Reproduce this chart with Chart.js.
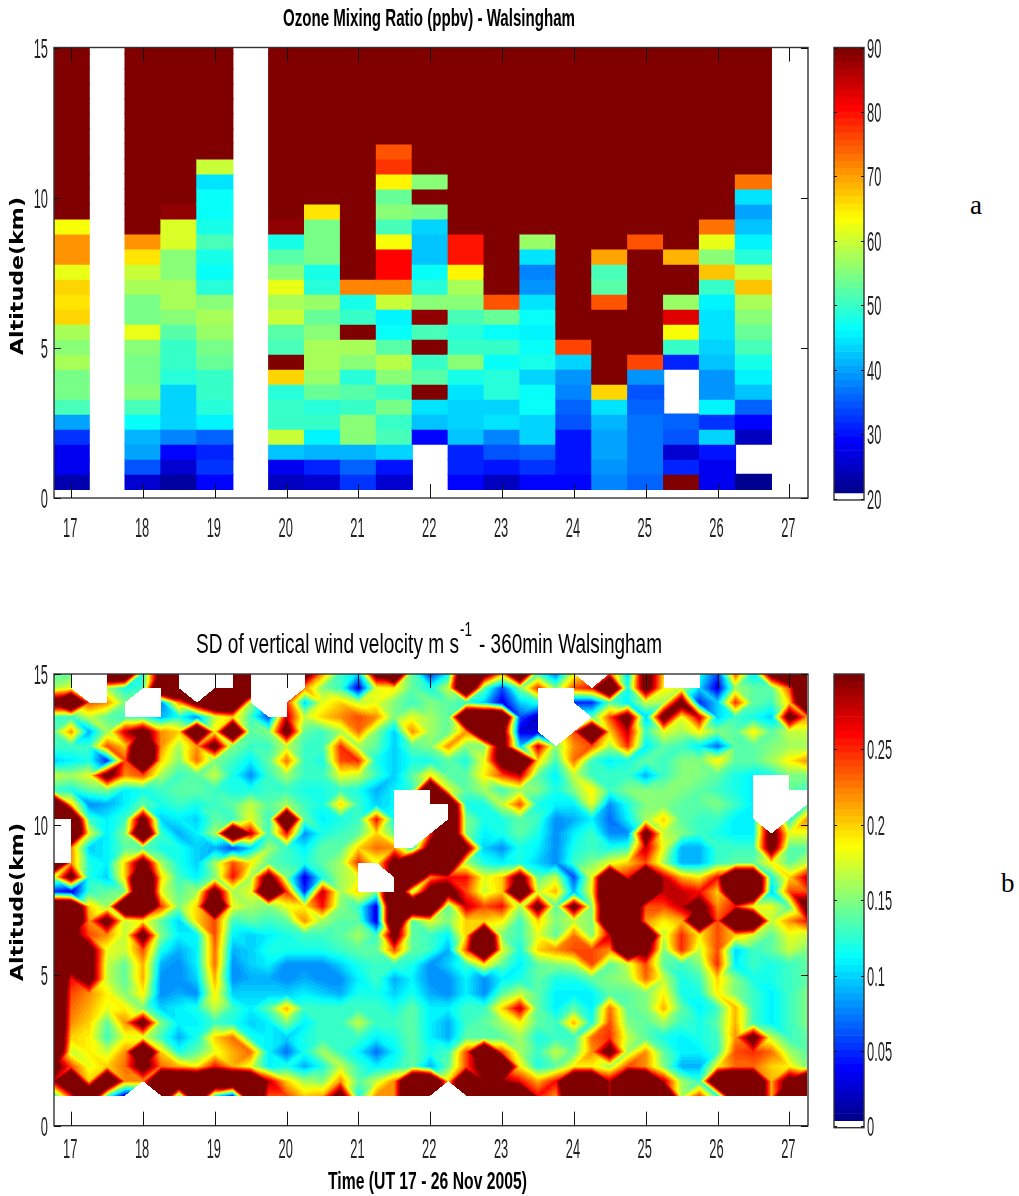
<!DOCTYPE html>
<html>
<head>
<meta charset="utf-8">
<title>Walsingham ozone and vertical wind</title>
<script src="https://cdn.jsdelivr.net/npm/chart.js@4"></script>
<style>
  html, body { margin: 0; padding: 0; background: #fff; }
  body { position: relative; width: 1019px; height: 1196px; overflow: hidden; }
  canvas { position: absolute; }
  .tag { position: absolute; font: 27px "Liberation Serif", serif; color: #000; }
</style>
</head>
<body>
<canvas id="ozoneChart" style="left:0;top:0"></canvas>
<canvas id="ozoneBar" style="left:820px;top:0"></canvas>
<canvas id="sdChart" style="left:0;top:600px"></canvas>
<canvas id="sdBar" style="left:820px;top:600px"></canvas>
<div class="tag" style="left:970px;top:190px">a</div>
<div class="tag" style="left:1001px;top:868px">b</div>
<script>
const N = null;

// Panel a: ozone (ppbv), one list per half day, bottom row first
const ozoneDays = [17, 17.5, 18, 18.5, 19, 19.5, 20, 20.5, 21, 21.5, 22, 22.5, 23, 23.5, 24, 24.5, 25, 25.5, 26, 26.5];
const ozoneEdges = [0.29, 0.79, 1.29, 1.79, 2.29, 2.79, 3.29, 3.79, 4.29, 4.79, 5.29, 5.79, 6.29, 6.79, 7.29, 7.79, 8.29, 8.79, 9.29, 9.79, 10.29, 10.79, 11.29, 11.79, 12.29, 12.79, 13.29, 13.79, 14.29, 14.79, 15.29, 15.79];
const ozoneValues = [
  [24,28,28,33,40,51,54,54,58,55,58,67,65,67,62,71,71,63,90,90,90,90,90,90,90,90,90,90,90,90,90],
  [],
  [26,35,40,41,47,51,55,54,54,55,62,54,54,58,60,65,71,90,90,90,90,90,90,90,90,90,90,90,90,90,90],
  [23,26,29,38,43,44,43,49,50,50,52,55,58,58,55,56,61,61,88,90,90,90,90,90,90,90,90,90,90,90,90],
  [29,33,31,36,46,49,50,50,53,54,57,58,55,49,47,48,51,48,47,47,45,60,90,90,90,90,90,90,90,90,90],
  [],
  [25,28,42,60,50,50,49,67,90,51,52,60,58,62,55,52,48,88,90,90,90,90,90,90,90,90,90,90,90,90,90],
  [26,31,41,46,50,49,53,57,58,58,55,53,57,49,48,54,54,54,65,90,90,90,90,90,90,90,90,90,90,90,90],
  [33,36,41,55,55,50,52,49,55,58,90,50,48,72,90,90,90,90,90,90,90,90,90,90,90,90,90,90,90,90,90],
  [26,30,44,51,50,54,50,56,59,52,47,46,60,72,81,81,63,51,55,53,64,77,75,90,90,90,90,90,90,90,90],
  [N,N,N,29,42,45,90,52,50,90,51,88,56,49,47,42,42,44,54,90,56,90,90,90,90,90,90,90,90,90,90],
  [29,32,32,42,44,43,45,48,55,50,49,51,55,58,64,80,80,90,90,90,90,90,90,90,90,90,90,90,90,90,90],
  [25,30,35,38,45,43,49,49,47,50,47,53,75,90,90,90,90,90,90,90,90,90,90,90,90,90,90,90,90,90,90],
  [29,33,36,43,43,47,47,44,48,47,46,47,45,39,38,45,57,90,90,90,90,90,90,90,90,90,90,90,90,90,90],
  [29,30,30,30,35,36,38,39,44,76,90,90,90,90,90,90,90,90,90,90,90,90,90,90,90,90,90,90,90,90,90],
  [38,39,40,40,41,45,67,90,90,90,90,90,75,52,51,70,90,90,90,90,90,90,90,90,90,90,90,90,90,90,90],
  [36,37,37,37,37,36,35,39,76,90,90,90,90,90,90,90,75,90,90,90,90,90,90,90,90,90,90,90,90,90,90],
  [90,32,26,35,36,N,N,N,31,50,63,83,57,90,90,69,90,89,90,90,90,90,90,90,90,90,90,90,90,90,90],
  [28,28,30,44,33,46,39,39,42,44,45,45,46,50,68,56,62,73,90,90,90,90,90,90,90,90,90,90,90,90,90],
  [22,N,N,25,29,36,42,46,48,51,53,55,58,68,60,49,46,42,40,45,73,90,90,90,90,90,90,90,90,90,90]
];

// Panel b: SD of vertical wind (hundredths of m/s), one list per altitude, top row first.
// Values above 30 are off the colour scale and show as the darkest red.
const sdDays = [16.75,17,17.25,17.5,17.75,18,18.25,18.5,18.75,19,19.25,19.5,19.75,20,20.25,20.5,20.75,21,21.25,21.5,21.75,22,22.25,22.5,22.75,23,23.25,23.5,23.75,24,24.25,24.5,24.75,25,25.25,25.5,25.75,26,26.25,26.5,26.75,27,27.25];
const sdAltitudes = [15.02,14.53,14.05,13.57,13.08,12.6,12.12,11.63,11.15,10.67,10.18,9.7,9.22,8.73,8.25,7.77,7.28,6.8,6.32,5.83,5.35,4.87,4.38,3.9,3.42,2.93,2.45,1.97,1.48,1.0];
const sdValues = [
  [14,14,20,45,45,12,34,45,22,22,45,45,20,20,34,22,13,10,34,45,14, 5,11,45,34,22,45,13,7,18,N,24,10,34,20,20,12,6,24,11,34,45,45],
  [16,18,N,16,12,13,45,45,N,45,45,45,20,N,22,15,13,3,18,19,14, 12,17,45,14,6,15,25,15,24,26,45,12,34,19,17,10,3,16,14,14,24,45],
  [34,45,24,22,15,N,8,22,34,45,45,16,N,25,10,18,20,17,18,15,13, 15,14,13,10,3,10,12,15,5,5,14,11,17,16,34,5,10,25,14,13,20,45],
  [13,13,17,14,13,13,9,12,8,17,20,13,6,28,17,20,22,24,22,15,18, 16,14,45,45,45,6,2,15,N,14,24,34,10,34,18,28,10,13,12,10,34,22],
  [14,22,9,16,28,34,22,20,45,19,45,14,15,34,14,13,16,23,15,10,22, 16,14,22,45,34,3,3,N,24,45,20,28,13,18,16,19,15,14,19,14,17,17],
  [13,13,13,24,20,45,22,16,22,34,15,13,13,17,13,13,25,16,14,10,14, 15,22,15,15,34,10,28,15,22,24,16,25,11,14,13,11,7,14,14,15,16,16],
  [10,11,12,5,24,45,20,15,23,15,13,11,14,23,13,12,24,25,12,10,12, 12,14,12,18,34,45,20,13,23,13,11,12,14,13,15,15,19,14,14,16,19,22],
  [17,16,18,34,22,24,16,13,14,17,12,8,13,16,13,13,18,17,13,10,14, 19,14,14,19,24,28,14,11,17,13,13,13,9,13,15,15,14,12,11,12,15,15],
  [13,12,14,15,11,12,13,14,14,13,12,12,13,13,12,12,13,12,9,11,13, 45,18,14,16,13,16,15,12,15,19,13,15,15,15,15,14,13,12,11,12,14,13],
  [45,20,8,9,11,14,12,13,12,13,14,17,14,16,13,12,20,13,10,11,13, 45,45,12,12,17,24,12,11,11,18,8,12,15,15,14,14,15,13,11,12,N,13],
  [45,45,13,11,13,34,10,11,10,14,13,18,13,45,14,11,12,13,26,12,13, N,45,15,12,12,14,13,8,9,11,7,11,16,20,14,13,13,11,11,N,12,22],
  [20,45,18,11,15,45,13,9,11,16,45,28,13,26,8,12,13,14,20,14,N, 25,45,15,11,12,14,12,8,11,13,8,8,34,17,15,13,12,11,11,34,18,18],
  [20,22,10,11,14,14,12,12,10,9,6,10,16,13,11,14,14,20,23,22,12, 34,45,34,10,8,12,11,8,12,13,12,13,28,18,9,9,13,13,13,34,14,14],
  [45,22,12,11,20,34,16,12,10,16,24,19,14,13,12,14,16,25,18,34,45, 45,45,16,12,11,12,10,8,13,15,18,20,24,16,9,9,13,14,14,19,14,17],
  [17,34,12,10,20,45,20,13,11,15,26,16,34,15,3,12,16,18,N,34,45, 22,26,26,18,20,34,14,17,6,18,45,26,45,28,21,19,26,45,45,12,20,28],
  [5,3,13,14,15,45,18,14,16,34,16,18,45,25,5,28,16,20,15,45,16, 34,34,24,17,20,45,17,21,9,19,45,45,45,28,28,26,20,45,45,10,24,24],
  [45,45,20,16,45,45,25,15,20,45,18,16,15,18,19,26,15,13,3,45,45, 45,14,28,24,26,16,34,14,34,15,45,45,24,24,28,34,22,26,18,18,14,34],
  [45,45,22,34,17,19,14,10,20,24,13,14,13,14,22,16,14,14,3,45,14, 18,15,20,20,19,13,20,15,17,15,45,45,22,19,21,45,24,45,45,17,22,26],
  [45,34,24,22,17,34,15,11,11,24,11,10,11,12,13,13,14,16,13,34,14, 13,11,20,45,15,13,18,14,23,15,28,45,45,17,25,19,24,20,17,14,18,17],
  [45,34,34,18,17,24,12,9,11,23,9,10,12,12,12,12,13,14,14,24,14, 13,9,24,45,18,12,20,22,24,24,22,45,34,15,25,17,24,10,13,14,17,15],
  [45,34,34,17,14,21,9,8,11,23,8,10,11,8,8,8,10,12,13,13,12, 8,10,13,19,14,11,14,15,16,24,14,17,24,14,13,15,25,11,13,12,13,14],
  [45,26,34,17,14,21,8,8,10,21,8,9,9,8,9,8,8,11,13,9,11, 8,8,11,8,11,12,14,12,12,14,15,16,23,17,12,13,20,15,12,12,13,14],
  [45,24,22,19,15,19,8,9,8,19,10,10,10,10,11,10,9,12,12,10,12, 9,8,11,8,14,17,14,11,11,11,14,14,15,19,12,12,19,15,13,11,13,15],
  [45,23,21,18,19,15,10,11,12,17,13,11,14,21,13,13,13,13,13,12,14, 11,11,13,13,20,28,14,11,14,11,23,14,15,21,14,11,13,21,13,11,13,15],
  [45,22,20,14,22,34,15,11,11,13,12,10,11,15,11,13,13,17,13,13,14, 11,9,13,14,16,19,14,13,21,12,24,15,14,16,13,12,14,21,13,11,13,15],
  [45,20,19,13,18,18,13,9,12,20,23,12,11,10,12,13,13,13,11,12,14, 11,9,14,14,14,16,12,13,13,23,25,17,14,12,11,12,13,22,34,17,13,14],
  [45,17,19,17,22,45,20,12,14,18,21,23,11,7,12,16,13,11,7,11,14, 12,13,24,45,24,16,13,17,14,22,34,16,22,14,11,11,13,24,25,23,16,14],
  [34,24,18,20,23,34,23,21,19,26,21,18,11,12,9,12,17,13,11,12,14, 9,14,24,34,45,19,12,14,19,19,16,24,22,15,9,9,19,23,23,20,19,15],
  [28,45,20,45,22,22,45,45,45,45,45,45,28,20,16,15,22,14,17,22,45, 45,20,45,30,30,26,21,26,45,45,28,45,45,28,16,13,45,45,45,21,34,45],
  [12,26,45,14,3,N,45,14,45,13,5,45,24,24,20,21,34,12,22,22,45, 45,N,45,45,45,45,26,22,45,45,28,45,45,45,16,24,12,45,45,21,45,45]
];
// Cells with no data: [row of sdAltitudes, column of sdDays] of the cell's top left corner
const sdMissingCells = [
  [0,1],[0,2],[1,2],
  [1,5],[2,4],[2,5],
  [0,7],[0,8],[0,9],
  [0,11],[0,12],[0,13],[1,11],[1,12],[2,12],
  [10,0],[11,0],[12,0],
  [8,19],[8,20],[9,19],[9,20],[9,21],[10,19],[10,20],[11,19],
  [13,17],[14,17],[14,18],
  [1,27],[1,28],[2,27],[2,28],[3,27],[3,28],
  [0,34],[0,35],
  [7,39],[7,40],[8,39],[8,40],[8,41],[9,39],[9,40]
];

// Tick labels
const dayTicks = [17, 18, 19, 20, 21, 22, 23, 24, 25, 26, 27];
const altitudeTicks = [0, 5, 10, 15];
const ozoneBarTicks = [20, 30, 40, 50, 60, 70, 80, 90];
const sdBarTicks = [0, 0.05, 0.1, 0.15, 0.2, 0.25];

const TICK_FONT = '28px "Liberation Sans", sans-serif';

// MATLAB jet with 64 steps
function jetRgb(t) {
    const level = Math.min(63, Math.max(0, Math.floor(t * 64))) / 63;
    const ramp = function(c) { return Math.round(255 * Math.min(1, Math.max(0, 1.5 - Math.abs(4 * level - c)))); };
    return [ramp(3), ramp(2), ramp(1)];
}

function jetCss(t) {
    return 'rgb(' + jetRgb(t).join(',') + ')';
}

// The originals are squeezed sideways, so text is drawn with its own x scale
function drawText(ctx, text, x, y, font, o) {
    ctx.save();
    ctx.font = font;
    ctx.fillStyle = o.color || '#111';
    ctx.textBaseline = 'alphabetic';
    ctx.textAlign = o.align || 'left';
    const sx = o.width ? o.width / ctx.measureText(text).width : o.sx;
    ctx.translate(x, y);
    if (o.rotate) ctx.rotate(-Math.PI / 2);
    ctx.scale(sx, 1);
    ctx.fillText(text, 0, 0);
    ctx.restore();
}

// Frame, inward ticks and tick labels for one axes box
function axesDecor(o) {
    return {
        id: 'axesDecor',
        afterDatasetsDraw: function(chart) {
            const ctx = chart.ctx, a = chart.chartArea, xs = chart.scales.x, ys = chart.scales.y;
            ctx.save();
            ctx.strokeStyle = '#333';
            ctx.lineWidth = 1.4;
            ctx.strokeRect(a.left, a.top, a.right - a.left, a.bottom - a.top);
            ctx.lineWidth = 1;
            ctx.strokeStyle = '#111';
            ctx.beginPath();
            if (o.xTick) {
                xs.ticks.forEach(function(t) {
                    const px = Math.round(xs.getPixelForValue(t.value)) + 0.5;
                    ctx.moveTo(px, a.bottom); ctx.lineTo(px, a.bottom - o.xTick);
                    ctx.moveTo(px, a.top); ctx.lineTo(px, a.top + o.xTick);
                });
            }
            ys.ticks.forEach(function(t) {
                const py = Math.round(ys.getPixelForValue(t.value)) + 0.5;
                ctx.moveTo(a.left, py); ctx.lineTo(a.left + o.yTick, py);
                ctx.moveTo(a.right, py); ctx.lineTo(a.right - o.yTick, py);
            });
            ctx.stroke();
            ctx.restore();
            if (o.xTick) {
                xs.ticks.forEach(function(t) {
                    drawText(ctx, String(t.value), xs.getPixelForValue(t.value) - 1, a.bottom + o.xLabelGap, TICK_FONT, { align: 'center', sx: 0.46, color: '#222' });
                });
            }
            ys.ticks.forEach(function(t) {
                const py = ys.getPixelForValue(t.value) + 10;
                if (o.barLabels) drawText(ctx, String(t.value), a.right + 3, py, TICK_FONT, { align: 'left', sx: 0.46, color: '#222' });
                else drawText(ctx, String(t.value), a.left - 6, py, TICK_FONT, { align: 'right', sx: 0.46, color: '#222' });
            });
            if (o.texts) o.texts(ctx);
        }
    };
}

function axesOptions(xMin, xMax, xTicks, yMin, yMax, yTicks, pad) {
    return {
        responsive: false,
        animation: false,
        events: [],
        layout: { padding: pad },
        plugins: { legend: { display: false }, tooltip: { enabled: false } },
        scales: {
            x: {
                type: 'linear', min: xMin, max: xMax, offset: false,
                grid: { display: false }, border: { display: false }, ticks: { display: false },
                afterBuildTicks: function(s) { s.ticks = xTicks.map(function(v) { return { value: v }; }); },
                afterFit: function(s) { s.height = 0; }
            },
            y: {
                min: yMin, max: yMax,
                grid: { display: false }, border: { display: false }, ticks: { display: false },
                afterBuildTicks: function(s) { s.ticks = yTicks.map(function(v) { return { value: v }; }); },
                afterFit: function(s) { s.width = 0; }
            }
        }
    };
}

function sizeCanvas(id, w, h) {
    const c = document.getElementById(id);
    c.width = w; c.height = h;
    c.style.width = w + 'px'; c.style.height = h + 'px';
    return c.getContext('2d');
}

// 1. Ozone
const ozoneBars = [];
const ozoneColors = [];
ozoneValues.forEach(function(column, c) {
    column.forEach(function(v, r) {
        if (v === N) return;
        ozoneBars.push({ x: ozoneDays[c], y: [ozoneEdges[r], ozoneEdges[r + 1]] });
        ozoneColors.push(jetCss((v - 20) / 70));
    });
});

new Chart(sizeCanvas('ozoneChart', 820, 545), {
    type: 'bar',
    data: { datasets: [{ label: 'Ozone (ppbv)', data: ozoneBars, backgroundColor: ozoneColors, borderWidth: 0, inflateAmount: 0.6, barPercentage: 1, categoryPercentage: 1 }] },
    options: axesOptions(16.76, 27.26, dayTicks, 0, 15, altitudeTicks, { left: 54, top: 47.5, right: 12, bottom: 47 }),
    plugins: [axesDecor({
        xTick: 14, yTick: 7, xLabelGap: 39,
        texts: function(ctx) {
            drawText(ctx, 'Ozone Mixing Ratio (ppbv) - Walsingham', 283, 26, 'bold 24px "Liberation Sans", sans-serif', { width: 292, color: '#000' });
            drawText(ctx, 'Altitude(km)', 23, 276, 'bold 18px "DejaVu Sans", sans-serif', { rotate: true, align: 'center', width: 158, color: '#000' });
        }
    })]
});

// 2. Colour bars, 64 steps with white for the lowest one
function barLevels(lo, hi) {
    const bars = [], colors = [];
    for (let i = 0; i < 64; i++) {
        bars.push({ x: 0.5, y: [lo + (hi - lo) * i / 64, lo + (hi - lo) * (i + 1) / 64] });
        colors.push(i === 0 ? '#fff' : jetCss(i / 63));
    }
    return { bars: bars, colors: colors };
}

const ozoneLevels = barLevels(19.8, 90);
new Chart(sizeCanvas('ozoneBar', 90, 545), {
    type: 'bar',
    data: { datasets: [{ data: ozoneLevels.bars, backgroundColor: ozoneLevels.colors, borderWidth: 0, barThickness: 30 }] },
    options: axesOptions(0, 1, [], 19.8, 90, ozoneBarTicks, { left: 14, top: 47.5, right: 46, bottom: 45 }),
    plugins: [axesDecor({ xTick: 0, yTick: 3, barLabels: true })]
});

const sdLevels = barLevels(-0.0008, 0.3);
new Chart(sizeCanvas('sdBar', 90, 596), {
    type: 'bar',
    data: { datasets: [{ data: sdLevels.bars, backgroundColor: sdLevels.colors, borderWidth: 0, barThickness: 30 }] },
    options: axesOptions(0, 1, [], -0.0008, 0.3, sdBarTicks, { left: 14, top: 74, right: 46, bottom: 68.3 }),
    plugins: [axesDecor({ xTick: 0, yTick: 3, barLabels: true })]
});

// 3. SD of vertical wind: shaded mesh on the chart's scales, missing corners leave holes
const sdPoints = [];
sdValues.forEach(function(row, r) {
    row.forEach(function(v, c) {
        if (v !== N) sdPoints.push({ x: sdDays[c], y: sdAltitudes[r], v: v });
    });
});

const sdMesh = {
    id: 'sdMesh',
    beforeDatasetsDraw: function(chart) {
        const a = chart.chartArea, xs = chart.scales.x, ys = chart.scales.y;
        const w = Math.ceil(a.right - a.left), h = Math.ceil(a.bottom - a.top);
        const off = document.createElement('canvas');
        off.width = w; off.height = h;
        const octx = off.getContext('2d');
        const img = octx.createImageData(w, h);
        const missing = {};
        sdMissingCells.forEach(function(m) { missing[m[0] + '_' + m[1]] = true; });

        function tri(p, q, s) {
            const det = (q.y - s.y) * (p.x - s.x) + (s.x - q.x) * (p.y - s.y);
            if (det === 0) return;
            const x0 = Math.max(0, Math.floor(Math.min(p.x, q.x, s.x)));
            const x1 = Math.min(w - 1, Math.ceil(Math.max(p.x, q.x, s.x)));
            const y0 = Math.max(0, Math.floor(Math.min(p.y, q.y, s.y)));
            const y1 = Math.min(h - 1, Math.ceil(Math.max(p.y, q.y, s.y)));
            for (let py = y0; py <= y1; py++) {
                for (let px = x0; px <= x1; px++) {
                    const cx = px + 0.5, cy = py + 0.5;
                    const l1 = ((q.y - s.y) * (cx - s.x) + (s.x - q.x) * (cy - s.y)) / det;
                    const l2 = ((s.y - p.y) * (cx - s.x) + (p.x - s.x) * (cy - s.y)) / det;
                    const l3 = 1 - l1 - l2;
                    if (l1 < -0.001 || l2 < -0.001 || l3 < -0.001) continue;
                    const v = (l1 * p.v + l2 * q.v + l3 * s.v) / 30;
                    const rgb = jetRgb(v);
                    const k = (py * w + px) * 4;
                    img.data[k] = rgb[0]; img.data[k + 1] = rgb[1]; img.data[k + 2] = rgb[2]; img.data[k + 3] = 255;
                }
            }
        }

        function corner(r, c) {
            const v = sdValues[r][c];
            if (v === N) return null;
            return { x: xs.getPixelForValue(sdDays[c]) - a.left, y: ys.getPixelForValue(sdAltitudes[r]) - a.top, v: v };
        }

        for (let r = 0; r < sdAltitudes.length - 1; r++) {
            for (let c = 0; c < sdDays.length - 1; c++) {
                if (missing[r + '_' + c]) continue;
                const tl = corner(r, c), tr = corner(r, c + 1), bl = corner(r + 1, c), br = corner(r + 1, c + 1);
                const good = [tl, tr, br, bl].filter(function(p) { return p; });
                if (good.length < 3) continue;
                if (good.length === 3) { tri(good[0], good[1], good[2]); continue; }
                // split along the diagonal with the smaller jump
                if (Math.abs(tl.v - br.v) <= Math.abs(tr.v - bl.v)) { tri(tl, tr, br); tri(tl, br, bl); }
                else { tri(tl, tr, bl); tri(tr, br, bl); }
            }
        }
        octx.putImageData(img, 0, 0);
        chart.ctx.drawImage(off, a.left, a.top);
    }
};

new Chart(sizeCanvas('sdChart', 820, 596), {
    type: 'scatter',
    data: { datasets: [{ label: 'SD of vertical wind', data: sdPoints, pointRadius: 0, showLine: false }] },
    options: axesOptions(16.76, 27.26, dayTicks, 0, 15, altitudeTicks, { left: 54, top: 74, right: 12, bottom: 70.3 }),
    plugins: [sdMesh, axesDecor({
        xTick: 14, yTick: 7, xLabelGap: 32,
        texts: function(ctx) {
            const font = '27px "Liberation Sans", sans-serif';
            drawText(ctx, 'SD of vertical wind velocity m s', 196, 52.5, font, { width: 263, color: '#000' });
            drawText(ctx, '-1', 460, 36, '20px "Liberation Sans", sans-serif', { width: 12, color: '#000' });
            drawText(ctx, '- 360min Walsingham', 479, 52.5, font, { width: 183, color: '#000' });
            drawText(ctx, 'Time (UT 17 - 26 Nov 2005)', 328, 589, 'bold 24px "Liberation Sans", sans-serif', { width: 199, color: '#000' });
            drawText(ctx, 'Altitude(km)', 23, 302, 'bold 18px "DejaVu Sans", sans-serif', { rotate: true, align: 'center', width: 158, color: '#000' });
        }
    })]
});
</script>
</body>
</html>
